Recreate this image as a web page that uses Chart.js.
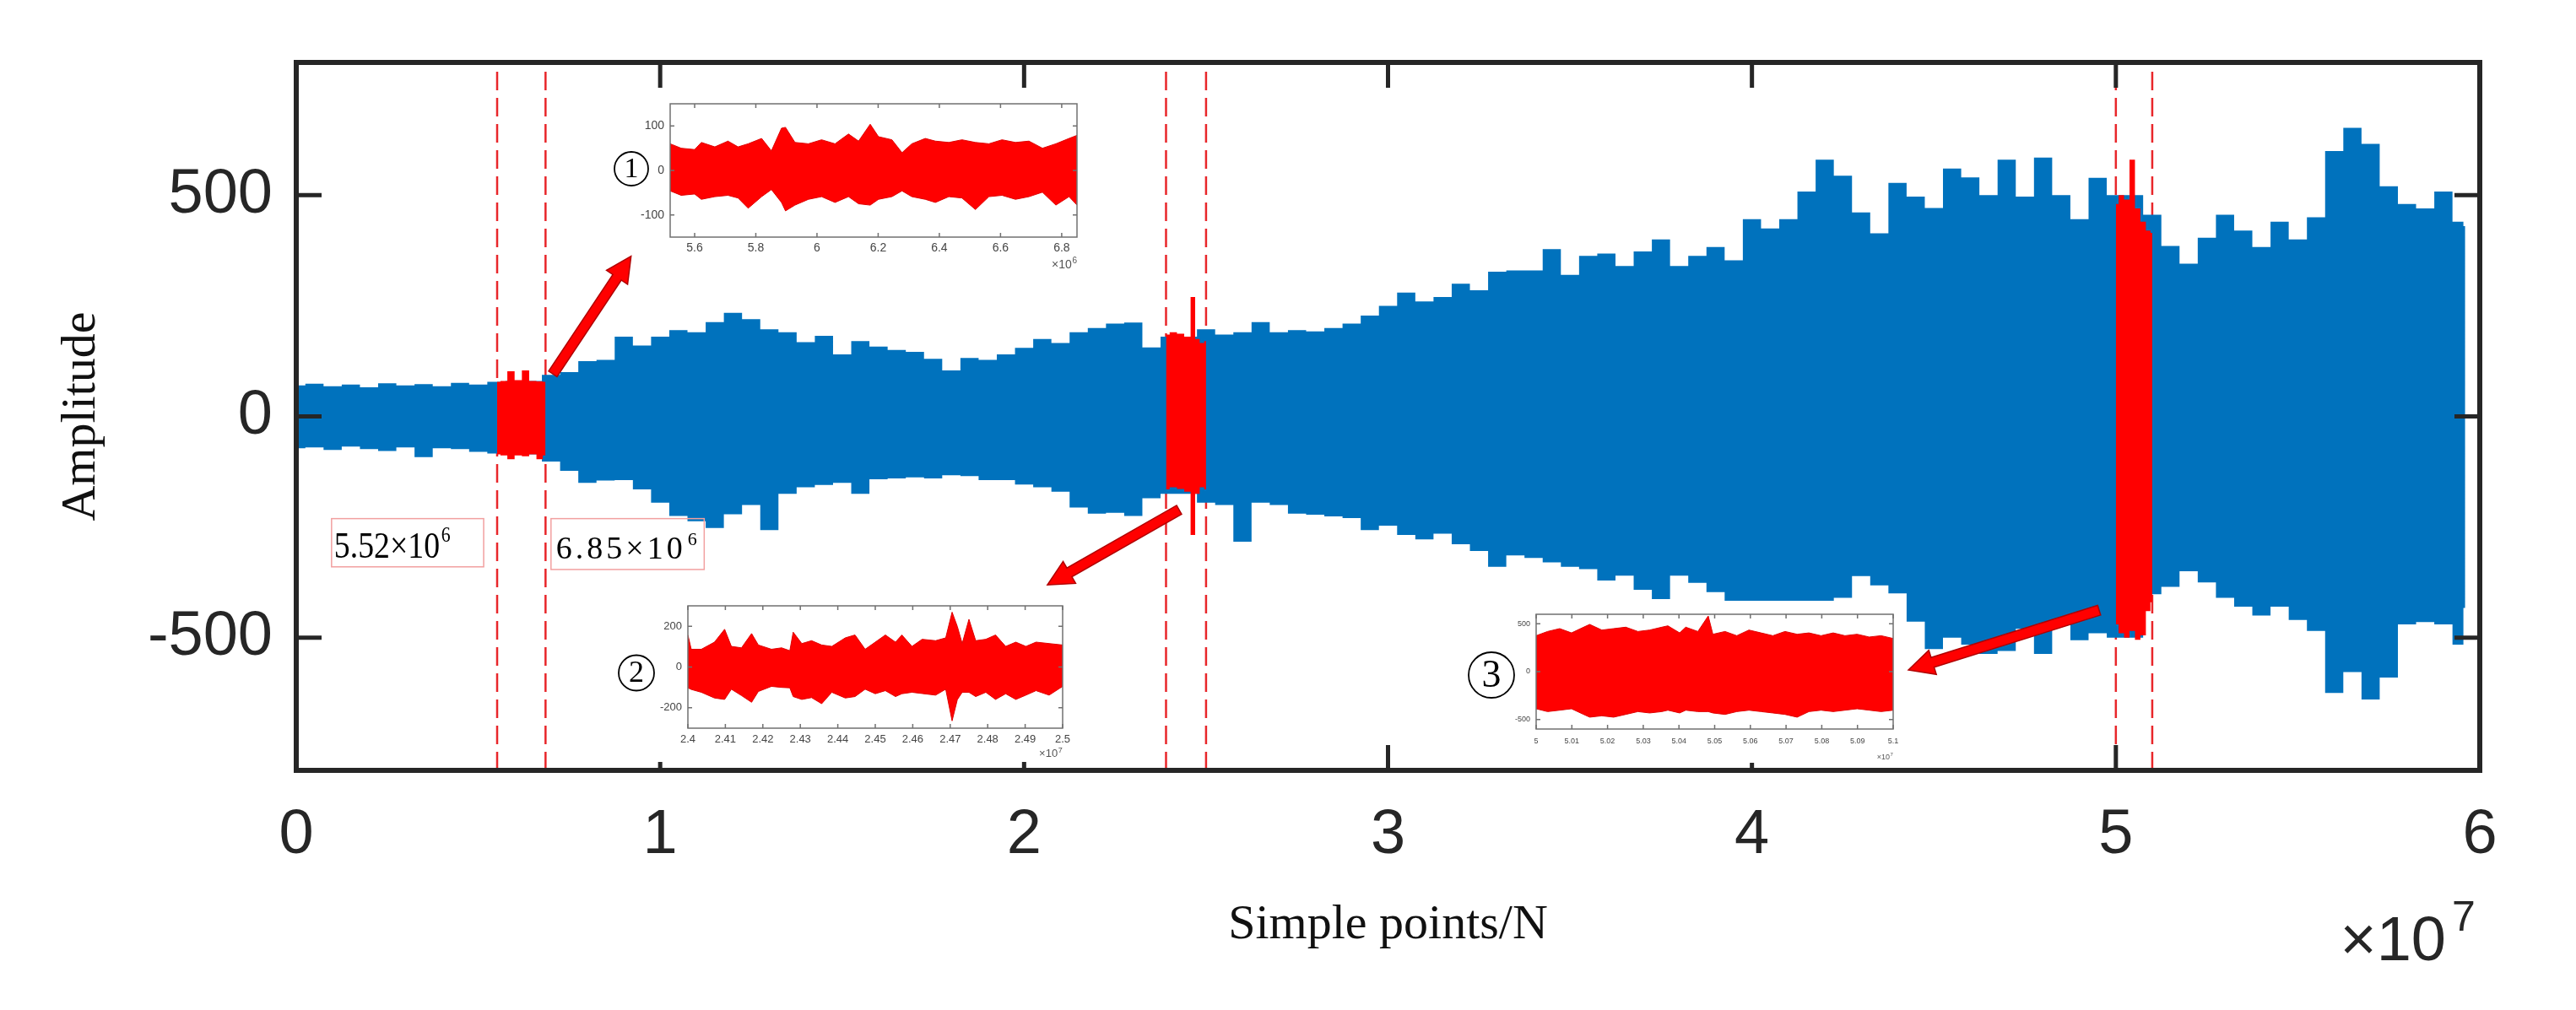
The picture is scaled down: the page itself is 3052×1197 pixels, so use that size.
<!DOCTYPE html>
<html><head><meta charset="utf-8">
<script src="https://cdn.jsdelivr.net/npm/chart.js@4.4.1/dist/chart.umd.min.js"></script>
<style>
html,body{margin:0;padding:0;background:#fff;overflow:hidden;}
#wrap{position:relative;width:3052px;height:1197px;background:#fff;}
#wrap canvas{position:absolute;}
</style></head><body>
<div id="wrap">
<canvas id="main" width="3052" height="1197" style="left:0;top:0"></canvas>
<canvas id="in1" width="600" height="230" style="left:700px;top:100px"></canvas>
<canvas id="in2" width="590" height="215" style="left:700px;top:695px"></canvas>
<canvas id="in3" width="540" height="210" style="left:1720px;top:700px"></canvas>
</div>
<script>
// ---------- main signal (x in units of 1e7 samples) ----------
const sampleX = [0,0.05,0.1,0.15,0.2,0.25,0.3,0.35,0.4,0.45,0.5,0.55,0.6,0.65,0.7,0.75,0.8,0.85,0.9,0.95,1,1.05,1.1,1.15,1.2,1.25,1.3,1.35,1.4,1.45,1.5,1.55,1.6,1.65,1.7,1.75,1.8,1.85,1.9,1.95,2,2.05,2.1,2.15,2.2,2.25,2.3,2.35,2.4,2.45,2.5,2.55,2.6,2.65,2.7,2.75,2.8,2.85,2.9,2.95,3,3.05,3.1,3.15,3.2,3.25,3.3,3.35,3.4,3.45,3.5,3.55,3.6,3.65,3.7,3.75,3.8,3.85,3.9,3.95,4,4.05,4.1,4.15,4.2,4.25,4.3,4.35,4.4,4.45,4.5,4.55,4.6,4.65,4.7,4.75,4.8,4.85,4.9,4.95,5,5.05,5.1,5.15,5.2,5.25,5.3,5.35,5.4,5.45,5.5,5.55,5.6,5.65,5.7,5.75,5.8,5.85,5.9,5.95,5.96];
const signalUpper = [70,74,68,72,66,75,70,73,68,76,72,
  78,80,80,94,100,125,128,180,160,180,
  195,190,213,234,220,197,190,168,182,140,
  170,158,150,146,130,104,132,128,140,155,
  175,166,190,200,210,212,156,180,180,197,
  185,190,213,190,195,192,200,210,228,250,
  280,260,270,300,285,327,330,330,378,320,
  363,368,340,373,400,340,363,383,353,446,
  425,446,508,580,544,461,414,528,497,471,
  560,540,500,580,497,585,500,446,539,500,
  500,456,385,345,404,456,420,383,440,400,
  450,600,652,616,520,480,470,508,440,430];
const signalLower = [-72,-70,-76,-68,-74,-78,-70,-92,-72,-74,-80,
  -84,-86,-86,-102,-123,-150,-145,-144,-165,-195,
  -225,-237,-252,-221,-200,-257,-175,-160,-155,-150,
  -175,-142,-140,-138,-140,-133,-135,-144,-144,-154,
  -160,-170,-206,-220,-218,-225,-185,-175,-175,-195,
  -200,-283,-195,-200,-220,-222,-226,-230,-257,-247,
  -268,-278,-265,-289,-304,-340,-314,-320,-330,-340,
  -345,-371,-360,-392,-413,-360,-376,-397,-418,-430,
  -430,-440,-450,-455,-410,-361,-382,-400,-464,-526,
  -500,-516,-537,-530,-480,-537,-465,-506,-490,-500,
  -500,-402,-385,-350,-375,-410,-430,-450,-430,-460,
  -485,-625,-578,-640,-590,-470,-465,-470,-516,-433];

// highlighted segments in the main plot
const seg1X = [0.552,0.57,0.59,0.61,0.63,0.65,0.67,0.685];
const seg1Upper = [78,80,102,82,104,80,79,78];
const seg1Lower = [-86,-88,-97,-88,-90,-86,-97,-88];
const seg2X = [2.39,2.41,2.43,2.45,2.465,2.475,2.49,2.5];
const seg2Upper = [185,190,187,180,270,175,166,170];
const seg2Lower = [-165,-160,-164,-170,-268,-175,-160,-165];
const seg3X = [5.0,5.015,5.03,5.045,5.06,5.075,5.09,5.1];
const seg3Upper = [480,500,490,580,470,440,420,415];
const seg3Lower = [-470,-490,-500,-485,-505,-495,-440,-420];

// dashed boundary positions (x 1e7)
const boundaryX = [0.552,0.685,2.39,2.5,5.0,5.1];

// axis ticks
const xTickValues = [0,1,2,3,4,5,6];
const yTickValues = [-500,0,500];

// ---------- inset ① (x in 1e6) ----------
const inset1X = [5.52,5.556,5.6,5.622,5.666,5.709,5.742,5.775,5.819,5.851,5.884,5.897,5.928,5.972,6.015,6.059,6.103,6.136,6.174,6.201,6.245,6.278,6.31,6.354,6.387,6.431,6.474,6.518,6.562,6.605,6.649,6.693,6.737,6.781,6.824,6.85];
const inset1Upper = [60,50,47,63,53,66,53,60,72,44,95,97,63,60,69,60,82,66,104,76,69,40,60,72,66,63,69,63,60,69,63,66,50,60,72,79];
const inset1Lower = [-46,-56,-53,-65,-59,-56,-62,-85,-59,-43,-72,-91,-78,-65,-59,-72,-59,-75,-78,-65,-59,-46,-59,-65,-72,-59,-62,-88,-59,-56,-65,-59,-49,-78,-59,-78];
const inset1XTicks = [5.6,5.8,6,6.2,6.4,6.6,6.8];
const inset1YTicks = [-100,0,100];

// ---------- inset ② (x in 1e7) ----------
const inset2X = [2.4,2.4009,2.4036,2.4071,2.4098,2.4116,2.4143,2.417,2.4188,2.4223,2.425,2.4272,2.4281,2.4304,2.433,2.4357,2.4384,2.442,2.4446,2.4473,2.45,2.4527,2.4554,2.4571,2.4598,2.4625,2.4661,2.4688,2.4705,2.4719,2.4732,2.475,2.4768,2.4795,2.4821,2.4848,2.4875,2.4902,2.4929,2.4964,2.5];
const inset2Upper = [157,87,87,122,185,101,94,164,108,87,94,80,171,115,129,108,101,143,157,87,122,157,122,157,101,136,129,143,269,199,115,234,129,136,157,101,122,101,122,115,108];
const inset2Lower = [-102,-110,-124,-152,-159,-109,-140,-173,-120,-95,-100,-102,-145,-159,-150,-180,-124,-152,-145,-109,-131,-116,-145,-131,-124,-130,-138,-109,-264,-160,-124,-124,-145,-124,-159,-131,-159,-138,-116,-138,-95];
const inset2XTicks = [2.4,2.41,2.42,2.43,2.44,2.45,2.46,2.47,2.48,2.49,2.5];
const inset2YTicks = [-200,0,200];

// ---------- inset ③ (x in 1e7) ----------
const inset3X = [5.0,5.0032,5.0066,5.0099,5.0133,5.015,5.0184,5.0217,5.0251,5.0285,5.0318,5.0352,5.0369,5.0402,5.0419,5.0453,5.0482,5.0495,5.0529,5.0562,5.0596,5.063,5.0663,5.0697,5.0731,5.0764,5.0798,5.0832,5.0865,5.0899,5.0933,5.0966,5.1];
const inset3Upper = [376,420,450,405,465,494,435,450,465,420,435,465,479,405,465,420,582,391,420,376,435,405,376,420,391,405,376,405,376,391,362,376,347];
const inset3Lower = [-388,-418,-403,-388,-447,-476,-462,-476,-447,-418,-432,-418,-403,-432,-403,-418,-418,-432,-447,-418,-403,-418,-432,-447,-476,-418,-403,-418,-403,-388,-403,-418,-403];
const inset3XTicks = [5,5.01,5.02,5.03,5.04,5.05,5.06,5.07,5.08,5.09,5.1];
const inset3YTicks = [-500,0,500];

// ---------- annotation placement (data coordinates of main axes) ----------
const arrowSpecs = [
  {from:[0.705,96],  to:[0.92,362]},
  {from:[2.426,-211],to:[2.064,-381]},
  {from:[4.954,-438],to:[4.43,-573]}
];
const labelBoxes = [
  {x0:0.097,x1:0.515,y0:-231,y1:-340,tx:0.104,ty:-319,text:'5.52×10',exp:'6',size:45,squeeze:0.84,spacing:0},
  {x0:0.700,x1:1.121,y0:-231,y1:-346,tx:0.714,ty:-322,text:'6.85×10',exp:'6',size:38,squeeze:1,spacing:4}
];

const SANS = "'Liberation Sans', Arial, Helvetica, sans-serif";
const SERIF = "'Liberation Serif', 'Times New Roman', serif";
const BLUE = '#0072BD';
const RED = '#FF0000';

function pts(xs, ys){ return xs.map((v,i)=>({x:v,y:ys[i]})); }

function drawArrow(ctx,x0,y0,x1,y1,shaft,headW,headL){
  const ang=Math.atan2(y1-y0,x1-x0), len=Math.hypot(x1-x0,y1-y0);
  ctx.save(); ctx.translate(x0,y0); ctx.rotate(ang);
  ctx.beginPath();
  ctx.moveTo(0,-shaft/2); ctx.lineTo(len-headL,-shaft/2); ctx.lineTo(len-headL,-headW/2);
  ctx.lineTo(len,0); ctx.lineTo(len-headL,headW/2); ctx.lineTo(len-headL,shaft/2); ctx.lineTo(0,shaft/2);
  ctx.closePath();
  ctx.fillStyle=RED; ctx.fill();
  ctx.strokeStyle='#b00000'; ctx.lineWidth=1.5; ctx.stroke();
  ctx.restore();
}

const mainDecor = {
  id:'mainDecor',
  afterDatasetsDraw(chart){
    const {ctx, chartArea:a, scales:{x,y}} = chart;
    arrowSpecs.forEach(s=>drawArrow(ctx,x.getPixelForValue(s.from[0]),y.getPixelForValue(s.from[1]),x.getPixelForValue(s.to[0]),y.getPixelForValue(s.to[1]),12,30,30));
    labelBoxes.forEach(b=>{
      const bx0=x.getPixelForValue(b.x0), bx1=x.getPixelForValue(b.x1), by0=y.getPixelForValue(b.y0), by1=y.getPixelForValue(b.y1);
      ctx.save();
      ctx.strokeStyle='#f2a0a0'; ctx.lineWidth=1.5;
      ctx.strokeRect(bx0,by0,bx1-bx0,by1-by0);
      const tx=x.getPixelForValue(b.tx), ty=y.getPixelForValue(b.ty);
      ctx.translate(tx,ty); ctx.scale(b.squeeze,1);
      ctx.fillStyle='#000'; ctx.textBaseline='alphabetic'; ctx.textAlign='left';
      ctx.font=b.size+'px '+SERIF;
      ctx.letterSpacing=b.spacing+'px';
      ctx.fillText(b.text,0,0);
      const w=ctx.measureText(b.text).width;
      ctx.font=Math.round(b.size*0.58)+'px '+SERIF;
      ctx.letterSpacing='0px';
      ctx.fillText(b.exp,w+2,-b.size*0.42);
      ctx.restore();
    });
    ctx.save();
    ctx.strokeStyle='#262626'; ctx.lineWidth=6;
    ctx.strokeRect(a.left,a.top,a.right-a.left,a.bottom-a.top);
    ctx.lineWidth=5; ctx.beginPath();
    xTickValues.forEach(v=>{const p=x.getPixelForValue(v); ctx.moveTo(p,a.bottom); ctx.lineTo(p,a.bottom-30); ctx.moveTo(p,a.top); ctx.lineTo(p,a.top+30);});
    yTickValues.forEach(v=>{const p=y.getPixelForValue(v); ctx.moveTo(a.left,p); ctx.lineTo(a.left+30,p); ctx.moveTo(a.right,p); ctx.lineTo(a.right-30,p);});
    ctx.stroke();
    ctx.fillStyle='#262626'; ctx.textBaseline='alphabetic';
    ctx.font='74px '+SANS; ctx.textAlign='right';
    ctx.fillText('×10',a.right-40,a.bottom+225);
    ctx.font='50px '+SANS; ctx.textAlign='left';
    ctx.fillText('7',a.right-33,a.bottom+190);
    ctx.restore();
  }
};

// upper edge line (no fill) + lower edge filled up to it
const edgeStyle = (order)=>({fill:false, borderWidth:0, pointRadius:0, stepped:'middle', order});
const bandStyle = (color, order)=>({fill:'-1', backgroundColor:color, borderColor:color, borderWidth:0, pointRadius:0, stepped:'middle', order});

const mainDatasets = [
  {data:pts(sampleX,signalUpper), ...edgeStyle(2)},
  {data:pts(sampleX,signalLower), ...bandStyle(BLUE,2)},
  {data:pts(seg1X,seg1Upper), ...edgeStyle(1)},
  {data:pts(seg1X,seg1Lower), ...bandStyle(RED,1)},
  {data:pts(seg2X,seg2Upper), ...edgeStyle(1)},
  {data:pts(seg2X,seg2Lower), ...bandStyle(RED,1)},
  {data:pts(seg3X,seg3Upper), ...edgeStyle(1)},
  {data:pts(seg3X,seg3Lower), ...bandStyle(RED,1)}
].concat(boundaryX.map(v=>({data:[{x:v,y:-800},{x:v,y:800}], fill:false, borderColor:'#e8262a', borderWidth:2.5, borderDash:[22,9], pointRadius:0, order:3})));

new Chart(document.getElementById('main'),{
  type:'line',
  data:{datasets:mainDatasets},
  options:{
    responsive:false, animation:false, devicePixelRatio:1,
    layout:{padding:{left:0,top:74,right:114,bottom:0}},
    plugins:{legend:{display:false},tooltip:{enabled:false}},
    scales:{
      x:{type:'linear',min:0,max:6,
        afterBuildTicks:s=>{s.ticks=xTickValues.map(v=>({value:v}));},
        afterFit:s=>{s.height=284;},
        grid:{display:false,drawTicks:false}, border:{display:false},
        ticks:{autoSkip:false,maxRotation:0,padding:33,color:'#262626',font:{family:SANS,size:74},callback:v=>String(v)},
        title:{display:true,text:'Simple points/N',color:'#111',font:{family:SERIF,size:58},padding:{top:0,bottom:65}}
      },
      y:{type:'linear',min:-800,max:800,
        afterBuildTicks:s=>{s.ticks=yTickValues.map(v=>({value:v}));},
        afterFit:s=>{s.width=351;},
        grid:{display:false,drawTicks:false}, border:{display:false},
        ticks:{autoSkip:false,padding:28,color:'#262626',font:{family:SANS,size:74},callback:v=>String(v)},
        title:{display:true,text:'Amplitude',color:'#111',font:{family:SERIF,size:58},padding:{top:62,bottom:0}}
      }
    }
  },
  plugins:[mainDecor]
});

// ---------- insets ----------
const insetDecor = {
  id:'insetDecor',
  beforeDraw(chart,args,o){
    const a=chart.chartArea, ctx=chart.ctx;
    ctx.save(); ctx.fillStyle='#fff';
    ctx.fillRect(a.left-40,a.top-16,a.right-a.left+47,a.bottom-a.top+56);
    ctx.restore();
  },
  afterDatasetsDraw(chart,args,o){
    const {ctx,chartArea:a,scales:{x,y}}=chart;
    ctx.save();
    ctx.strokeStyle='#707070'; ctx.lineWidth=1.5;
    ctx.strokeRect(a.left,a.top,a.right-a.left,a.bottom-a.top);
    ctx.beginPath();
    o.xTicks.forEach(v=>{const p=x.getPixelForValue(v); ctx.moveTo(p,a.bottom); ctx.lineTo(p,a.bottom-5); ctx.moveTo(p,a.top); ctx.lineTo(p,a.top+5);});
    o.yTicks.forEach(v=>{const p=y.getPixelForValue(v); ctx.moveTo(a.left,p); ctx.lineTo(a.left+5,p); ctx.moveTo(a.right,p); ctx.lineTo(a.right-5,p);});
    ctx.stroke();
    ctx.fillStyle='#555'; ctx.textBaseline='alphabetic';
    ctx.font=o.fs+'px '+SANS; ctx.textAlign='right';
    ctx.fillText('×10',a.right-o.fs*0.45,a.bottom+o.expY);
    ctx.font=Math.round(o.fs*0.7)+'px '+SANS; ctx.textAlign='left';
    ctx.fillText(o.exp,a.right-o.fs*0.4,a.bottom+o.expY-o.fs*0.4);
    const cx=a.left-o.cdx, cy=(a.top+a.bottom)/2+o.cdy;
    ctx.strokeStyle='#000'; ctx.lineWidth=1.8;
    ctx.beginPath(); ctx.arc(cx,cy,o.r,0,Math.PI*2); ctx.stroke();
    ctx.fillStyle='#000'; ctx.textAlign='center'; ctx.textBaseline='middle';
    ctx.font=o.dfs+'px '+SERIF;
    ctx.fillText(o.digit,cx,cy+o.r*0.06);
    ctx.restore();
  }
};

function makeInset(id,xs,ups,lows,xTicks,yTicks,xmin,xmax,ymax,lay,deco){
  const fmt=v=>String(Math.round(v*1000)/1000);
  new Chart(document.getElementById(id),{
    type:'line',
    data:{datasets:[
      {data:pts(xs,ups),fill:false,borderColor:'#e00000',borderWidth:1,pointRadius:0,tension:0},
      {data:pts(xs,lows),fill:'-1',backgroundColor:RED,borderColor:'#e00000',borderWidth:1,pointRadius:0,tension:0}
    ]},
    options:{
      responsive:false,animation:false,devicePixelRatio:1,
      layout:{padding:{left:0,top:lay.padTop,right:lay.padRight,bottom:0}},
      plugins:{legend:{display:false},tooltip:{enabled:false},insetDecor:Object.assign({xTicks,yTicks},deco)},
      scales:{
        x:{type:'linear',min:xmin,max:xmax,
          afterBuildTicks:s=>{s.ticks=xTicks.map(v=>({value:v}));},
          afterFit:s=>{s.height=lay.xh;},
          grid:{display:false,drawTicks:false},border:{display:false},
          ticks:{autoSkip:false,maxRotation:0,padding:lay.xpad,color:'#444',font:{family:SANS,size:deco.fs},callback:fmt}},
        y:{type:'linear',min:-ymax,max:ymax,
          afterBuildTicks:s=>{s.ticks=yTicks.map(v=>({value:v}));},
          afterFit:s=>{s.width=lay.yw;},
          grid:{display:false,drawTicks:false},border:{display:false},
          ticks:{autoSkip:false,padding:7,color:'#444',font:{family:SANS,size:deco.fs},callback:fmt}}
      }
    },
    plugins:[insetDecor]
  });
}

makeInset('in1',inset1X,inset1Upper,inset1Lower,inset1XTicks,inset1YTicks,5.52,6.85,150,
  {padTop:23,padRight:24,xh:49,yw:94,xpad:5},
  {fs:14,exp:'6',expY:37,cdx:46,cdy:-2,r:20,dfs:34,digit:'1'});
makeInset('in2',inset2X,inset2Upper,inset2Lower,inset2XTicks,inset2YTicks,2.4,2.5,300,
  {padTop:23,padRight:31,xh:47,yw:115,xpad:6},
  {fs:13,exp:'7',expY:34,cdx:61,cdy:7,r:21,dfs:36,digit:'2'});
makeInset('in3',inset3X,inset3Upper,inset3Lower,inset3XTicks,inset3YTicks,5.0,5.1,600,
  {padTop:28,padRight:17,xh:46,yw:100,xpad:9},
  {fs:9,exp:'7',expY:36,cdx:53,cdy:4,r:27,dfs:46,digit:'3'});
</script>
</body></html>
